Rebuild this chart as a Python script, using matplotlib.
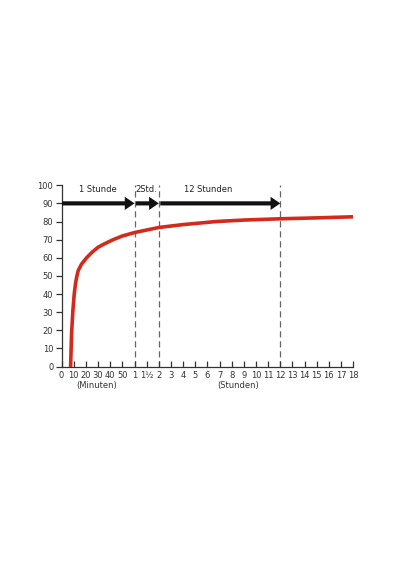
import numpy as np
import matplotlib
matplotlib.use("Agg")
import matplotlib.pyplot as plt
from matplotlib.patches import FancyArrowPatch

# curve (time in hours, value in %)
curve_min = [7.4, 8.2, 9.3, 10.4, 11.5, 12.6, 13.7, 16.4, 20.6, 25, 30, 35, 42.5, 50]
curve_min_val = [0, 18, 31, 40, 46, 50, 53, 56.5, 60, 63, 65.8, 67.6, 70, 72]
curve_hrs = [1, 1.5, 2, 4, 6.75, 9, 12, 15, 18]
curve_hrs_val = [73.9, 75.3, 76.7, 78.3, 80, 80.8, 81.5, 82, 82.6]

times = [m / 60 for m in curve_min] + curve_hrs
values = curve_min_val + curve_hrs_val

tick_pos = [0, 10/60, 20/60, 30/60, 40/60, 50/60, 1, 1.5] + list(range(2, 19))
tick_lab = ['0', '10', '20', '30', '40', '50', '1', '1½'] + [str(h) for h in range(2, 19)]

marks = [1, 2, 12]
spans = [(0, 1), (1, 2), (2, 12)]
span_lab = ['1 Stunde', '2Std.', '12 Stunden']
span_lab_x = [0.5, 1.5, 6.1]


def fwd(h):
    h = np.asarray(h, float)
    return np.where(h <= 1, 6 * h, np.where(h <= 2, 6 + 2 * (h - 1), h + 6))


def inv(i):
    i = np.asarray(i, float)
    return np.where(i <= 6, i / 6, np.where(i <= 8, 1 + (i - 6) / 2, i - 6))


fig = plt.figure(figsize=(4, 5.7), dpi=100)
ax = fig.add_axes([0.154, 0.357, 0.729, 0.318])
ax.set_xscale('function', functions=(fwd, inv))
ax.set_xlim(0, 18)
ax.set_ylim(0, 100)

ax.plot(times, values, color='#d42a1b', lw=2.6, solid_capstyle='round', zorder=3)

for m in marks:
    ax.axvline(m, color='#666666', lw=0.9, dashes=(5, 3), zorder=1)

for (a, b) in spans:
    start = fwd(a) + (0.12 if a > 0 else 0)
    arr = FancyArrowPatch((float(inv(start)), 90), (b, 90),
                          arrowstyle='simple,head_length=0.7,head_width=0.95,tail_width=0.3',
                          mutation_scale=10, color='#111111', lw=0,
                          shrinkA=0, shrinkB=0, zorder=4)
    ax.add_patch(arr)

for x, t in zip(span_lab_x, span_lab):
    ax.text(x, 97.5, t, ha='center', va='center', fontsize=6, color='#222222')

ax.set_xticks(tick_pos)
ax.set_xticklabels(tick_lab)
ax.set_yticks(range(0, 101, 10))
ax.xaxis.set_minor_locator(matplotlib.ticker.NullLocator())
ax.tick_params(axis='x', direction='in', length=4, width=0.9, labelsize=6, pad=3, colors='#333333')
ax.tick_params(axis='y', direction='out', length=4, width=0.9, labelsize=6, pad=2, colors='#333333')
for s in ['top', 'right']:
    ax.spines[s].set_visible(False)
for s in ['left', 'bottom']:
    ax.spines[s].set_linewidth(0.9)
    ax.spines[s].set_color('#333333')

ax.text(0.483, -10.5, '(Minuten)', ha='center', va='center', fontsize=6, color='#333333', clip_on=False)
ax.text(8.5, -10.5, '(Stunden)', ha='center', va='center', fontsize=6, color='#333333', clip_on=False)

fig.savefig('out.png', dpi=100)
